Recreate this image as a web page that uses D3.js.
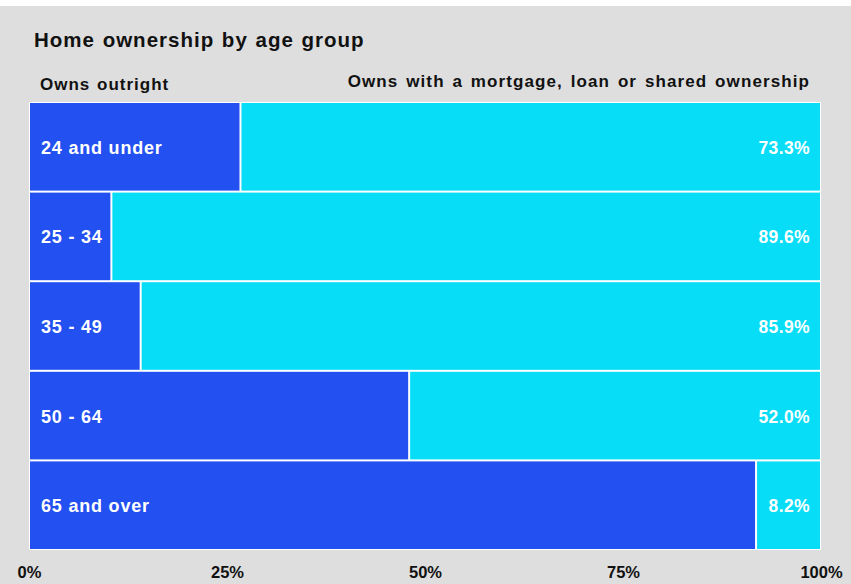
<!DOCTYPE html>
<html><head><meta charset="utf-8">
<script src="https://cdn.jsdelivr.net/npm/d3@7"></script>
<style>
body{margin:0;background:#fff;}
text{font-family:"Liberation Sans",Arial,sans-serif;font-weight:bold;}
</style></head>
<body>
<svg id="c" width="851" height="584"></svg>
<script>
const categories = ["24 and under","25 - 34","35 - 49","50 - 64","65 and over"];
const mortgage = [73.3, 89.6, 85.9, 52.0, 8.2];
const outright = [26.7, 10.4, 14.1, 48.0, 91.8];
const tickValues = [0, 25, 50, 75, 100];
const tickLabels = ["0%","25%","50%","75%","100%"];
const title = "Home ownership by age group";
const leftLabel = "Owns outright";
const rightLabel = "Owns with a mortgage, loan or shared ownership";

const W = 851, H = 584;
const svg = d3.select("#c");
svg.append("rect").attr("x",0).attr("y",6).attr("width",W).attr("height",H-6).attr("fill","#dedede");

const m = {left:29, right:30, top:102, bottom:34};
const x = d3.scaleLinear().domain([0,100]).range([m.left, W-m.right]);
const y = d3.scaleBand().domain(categories).range([m.top, H-m.bottom]);

svg.append("rect").attr("x",x(0)).attr("y",m.top).attr("width",x(100)-x(0)).attr("height",H-m.bottom-m.top).attr("fill","#fff");

const data = categories.map((c,i)=>({c, o:outright[i], m:mortgage[i]}));
const g = svg.append("g");
g.selectAll(".o").data(data).join("rect")
  .attr("x",d=>x(0)+1).attr("y",d=>y(d.c)+1)
  .attr("width",d=>x(d.o)-x(0)-2).attr("height",y.bandwidth()-2)
  .attr("fill","#2350f0");
g.selectAll(".m").data(data).join("rect")
  .attr("x",d=>x(d.o)+1).attr("y",d=>y(d.c)+1)
  .attr("width",d=>x(100)-x(d.o)-2).attr("height",y.bandwidth()-2)
  .attr("fill","#08ddf8");

g.selectAll(".cl").data(data).join("text")
  .attr("x",x(0)+12).attr("y",d=>y(d.c)+y.bandwidth()/2+7)
  .attr("fill","#fff").attr("font-size","18px").attr("letter-spacing","0.8px").text(d=>d.c);
g.selectAll(".vl").data(data).join("text")
  .attr("x",x(100)-11).attr("y",d=>y(d.c)+y.bandwidth()/2+7)
  .attr("text-anchor","end").attr("fill","#fff").attr("font-size","17.5px").attr("letter-spacing","0.4px")
  .text(d=>d.m.toFixed(1)+"%");

const axis = d3.axisBottom(x).tickValues(tickValues).tickFormat((d,i)=>tickLabels[i]).tickSize(0).tickPadding(0);
const ax = svg.append("g").attr("transform",`translate(0,${H-m.bottom})`).call(axis);
ax.select(".domain").remove();
ax.selectAll("text").attr("dy",0).attr("y",28).attr("fill","#111").attr("font-size","16.5px")
  .style("font-family","Liberation Sans, Arial, sans-serif").style("font-weight","bold");

svg.append("text").attr("x",34).attr("y",47).attr("font-size","20.5px").attr("fill","#111").attr("letter-spacing","1px").attr("word-spacing","1px").text(title);
svg.append("text").attr("x",40).attr("y",90).attr("font-size","17px").attr("fill","#111").attr("letter-spacing","1px").attr("word-spacing","1px").text(leftLabel);
svg.append("text").attr("x",810).attr("y",87).attr("text-anchor","end").attr("font-size","17px").attr("fill","#111").attr("letter-spacing","1.1px").attr("word-spacing","2px").text(rightLabel);
</script>
</body></html>
